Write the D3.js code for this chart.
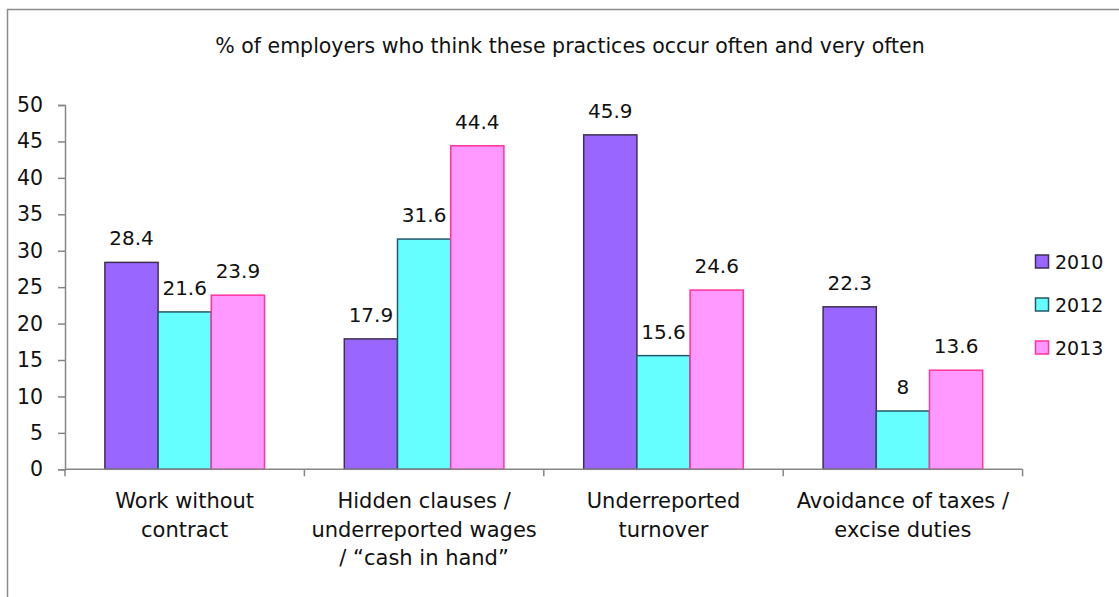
<!DOCTYPE html>
<html>
<head>
<meta charset="utf-8">
<script src="https://cdn.jsdelivr.net/npm/d3@7"></script>
<style>
html,body{margin:0;padding:0;background:#fff;}
svg{display:block;}
</style>
</head>
<body>
<svg id="chart" width="1119" height="597"></svg>
<script>
const categories = [
  ["Work without", "contract"],
  ["Hidden clauses /", "underreported wages", "/ \u201ccash in hand\u201d"],
  ["Underreported", "turnover"],
  ["Avoidance of taxes /", "excise duties"]
];
const seriesNames = ["2010", "2012", "2013"];
const values2010 = [28.4, 17.9, 45.9, 22.3];
const values2012 = [21.6, 31.6, 15.6, 8];
const values2013 = [23.9, 44.4, 24.6, 13.6];
const yTicks = [0, 5, 10, 15, 20, 25, 30, 35, 40, 45, 50];
const titleText = "% of employers who think these practices occur often and very often";

const fills = ["#9966FF", "#66FFFF", "#FF99FF"];
const strokes = ["#3F3151", "#215968", "#FF3399"];
const seriesValues = [values2010, values2012, values2013];

const svg = d3.select("#chart");
const labelFont = "'DejaVu Sans', sans-serif";

// frame
svg.append("rect")
  .attr("x", 7.5).attr("y", 9.5)
  .attr("width", 1200).attr("height", 700)
  .attr("fill", "none").attr("stroke", "#8c8c8c").attr("stroke-width", 1.5);

// title
svg.append("text")
  .attr("x", 570).attr("y", 53)
  .attr("text-anchor", "middle")
  .attr("font-family", labelFont)
  .attr("font-size", 20.5)
  .attr("fill", "#111")
  .text(titleText);

const plotLeft = 65, plotRight = 1022.6, plotTop = 105, plotBottom = 469.3;

const x0 = d3.scaleBand()
  .domain(d3.range(categories.length))
  .range([plotLeft, plotRight])
  .paddingInner(0).paddingOuter(0);
const unit = x0.bandwidth() / 4.5;
const x1 = d3.scaleBand()
  .domain(seriesNames)
  .range([0.75 * unit, 3.75 * unit]);

const y = d3.scaleLinear().domain([0, 50]).range([plotBottom, plotTop]);

// y axis
const yAxis = svg.append("g")
  .attr("transform", `translate(${plotLeft},0)`)
  .call(d3.axisLeft(y).tickValues(yTicks).tickSize(7).tickPadding(15).tickFormat(d3.format("d")));
yAxis.select(".domain").attr("stroke", "#868686").attr("stroke-width", 1.5);
yAxis.selectAll(".tick line").attr("stroke", "#868686").attr("stroke-width", 1.5);
yAxis.selectAll(".tick text")
  .attr("font-family", labelFont).attr("font-size", 20.5).attr("fill", "#111");

// bars
const groups = svg.append("g").selectAll("g")
  .data(d3.range(categories.length))
  .join("g")
  .attr("transform", i => `translate(${x0(i)},0)`);

seriesNames.forEach((s, si) => {
  groups.append("rect")
    .attr("x", x1(s))
    .attr("width", x1.bandwidth())
    .attr("y", i => y(seriesValues[si][i]))
    .attr("height", i => y(0) - y(seriesValues[si][i]))
    .attr("fill", fills[si])
    .attr("stroke", strokes[si])
    .attr("stroke-width", 1.5);
  groups.append("text")
    .attr("x", x1(s) + x1.bandwidth() / 2)
    .attr("y", i => y(seriesValues[si][i]) - 17)
    .attr("text-anchor", "middle")
    .attr("font-family", labelFont)
    .attr("font-size", 20)
    .attr("fill", "#111")
    .text(i => seriesValues[si][i]);
});

// x axis
const xAxisG = svg.append("g");
xAxisG.append("line")
  .attr("x1", plotLeft).attr("x2", plotRight)
  .attr("y1", plotBottom).attr("y2", plotBottom)
  .attr("stroke", "#868686").attr("stroke-width", 1.5);
const boundaries = d3.range(categories.length + 1).map(i => i < categories.length ? x0(i) : plotRight);
xAxisG.selectAll("line.tk").data(boundaries).join("line")
  .attr("class", "tk")
  .attr("x1", d => d).attr("x2", d => d)
  .attr("y1", plotBottom).attr("y2", plotBottom + 7)
  .attr("stroke", "#868686").attr("stroke-width", 1.5);

const catText = svg.append("g").selectAll("text")
  .data(categories)
  .join("text")
  .attr("x", (d, i) => x0(i) + x0.bandwidth() / 2)
  .attr("y", 508)
  .attr("text-anchor", "middle")
  .attr("font-family", labelFont)
  .attr("font-size", 21)
  .attr("fill", "#111");
catText.selectAll("tspan")
  .data(d => d)
  .join("tspan")
  .attr("x", function() { return this.parentNode.getAttribute("x"); })
  .attr("dy", (d, i) => i === 0 ? 0 : 28.6)
  .text(d => d);

// legend
const legend = svg.append("g");
const legendY = [262, 305, 348];
seriesNames.forEach((s, si) => {
  legend.append("rect")
    .attr("x", 1035.5).attr("y", legendY[si] - 7)
    .attr("width", 13).attr("height", 13)
    .attr("fill", fills[si]).attr("stroke", strokes[si]).attr("stroke-width", 1.5);
  legend.append("text")
    .attr("x", 1055).attr("y", legendY[si] + 7)
    .attr("font-family", labelFont)
    .attr("font-size", 19)
    .attr("fill", "#111")
    .text(s);
});
</script>
</body>
</html>
